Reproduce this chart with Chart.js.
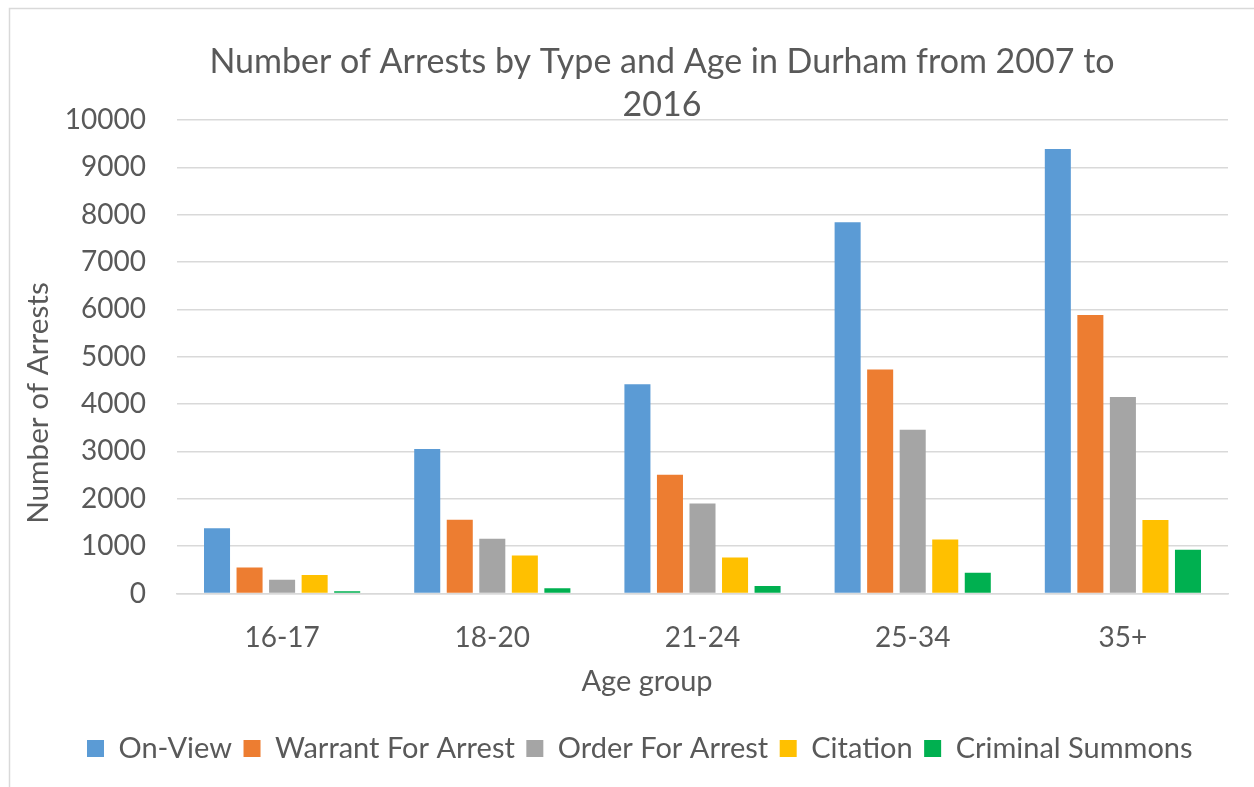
<!DOCTYPE html>
<html>
<head>
<meta charset="utf-8">
<script src="https://cdn.jsdelivr.net/npm/chart.js@4.4.1/dist/chart.umd.min.js"></script>
<style>
  html, body { margin: 0; padding: 0; background: #ffffff; }
  #wrap { width: 1254px; height: 787px; position: relative; }
</style>
</head>
<body>
<div id="wrap"><canvas id="c"></canvas></div>
<script>
const categories = ['16-17', '18-20', '21-24', '25-34', '35+'];
const onView   = [1380, 3050, 4420, 7840, 9390];
const warrant  = [550, 1560, 2510, 4730, 5880];
const order    = [290, 1155, 1900, 3460, 4150];
const citation = [390, 800, 760, 1140, 1550];
const summons  = [45, 110, 160, 440, 925];
const seriesNames = ['On-View', 'Warrant For Arrest', 'Order For Arrest', 'Citation', 'Criminal Summons'];
const yTicks = [0, 1000, 2000, 3000, 4000, 5000, 6000, 7000, 8000, 9000, 10000];
const titleLines = ['Number of Arrests by Type and Age in Durham from 2007 to', '2016'];
const xTitle = 'Age group';
const yTitle = 'Number of Arrests';

const colors = ['#5B9BD5', '#ED7D31', '#A5A5A5', '#FFC000', '#00B050'];
const textColor = '#595959';
const FONT = 'Lato, "Open Sans", sans-serif';

const frame = {
  id: 'frame',
  afterLayout(chart) {
    // let the y tick labels overhang the padded area without being clipped
    chart.scales.y.left = 12;
  },
  beforeDraw(chart) {
    const ctx = chart.ctx;
    ctx.save();
    ctx.fillStyle = '#ffffff';
    ctx.fillRect(0, 0, chart.width, chart.height);
    ctx.strokeStyle = '#d9d9d9';
    ctx.lineWidth = 1.5;
    ctx.beginPath();
    ctx.moveTo(9.5, chart.height + 5);
    ctx.lineTo(9.5, 8.5);
    ctx.lineTo(chart.width + 5, 8.5);
    ctx.stroke();
    ctx.restore();
  },
  afterDraw(chart) {
    const ctx = chart.ctx;
    ctx.save();
    ctx.fillStyle = textColor;
    ctx.textAlign = 'center';
    ctx.textBaseline = 'middle';
    ctx.font = '29px ' + FONT;
    ctx.fillText(xTitle, 647, 682);
    ctx.font = '29.7px ' + FONT;
    ctx.translate(38, 403);
    ctx.rotate(-Math.PI / 2);
    ctx.fillText(yTitle, 0, 0);
    ctx.restore();
  }
};

const datasets = [onView, warrant, order, citation, summons].map((vals, i) => ({
  label: seriesNames[i],
  data: vals,
  backgroundColor: colors[i],
  borderWidth: 0,
  categoryPercentage: 0.774,
  barPercentage: 0.8
}));

new Chart(document.getElementById('c'), {
  type: 'bar',
  data: { labels: categories, datasets },
  plugins: [frame],
  options: {
    responsive: true,
    maintainAspectRatio: false,
    animation: false,
    layout: { padding: { left: 75.5, right: 5.5, top: 0, bottom: 14 } },
    plugins: {
      tooltip: { enabled: false },
      title: {
        display: true,
        text: titleLines,
        color: textColor,
        font: { family: FONT, size: 34, weight: 'normal', lineHeight: 1.265 },
        padding: { top: 40.5, bottom: -6.5 }
      },
      legend: {
        position: 'bottom',
        align: 'start',
        labels: {
          color: textColor,
          font: { family: FONT, size: 29 },
          boxWidth: 17,
          boxHeight: 17,
          padding: 11.5
        }
      }
    },
    scales: {
      x: {
        grid: { display: false, drawTicks: false },
        border: { display: true, color: '#d9d9d9', width: 1.5 },
        ticks: { color: textColor, font: { family: FONT, size: 28 }, padding: 27.2, maxRotation: 0 },
        title: { display: false },
        afterFit(scale) { scale.height = 129; }
      },
      y: {
        min: 0,
        max: 10000,
        afterBuildTicks(scale) { scale.ticks = yTicks.map(v => ({ value: v })); },
        afterFit(scale) { scale.width = 101.5; },
        grid: { color: '#d9d9d9', lineWidth: 1.5, drawTicks: false },
        border: { display: false },
        ticks: {
          color: textColor,
          font: { family: FONT, size: 28 },
          padding: 31,
          callback: (v) => String(v)
        }
      },
      spacer: {
        type: 'linear',
        position: 'right',
        display: true,
        grid: { display: false, drawTicks: false },
        border: { display: false },
        ticks: { display: false },
        afterFit(scale) { scale.width = 20.5; }
      }
    }
  }
});
</script>
</body>
</html>
